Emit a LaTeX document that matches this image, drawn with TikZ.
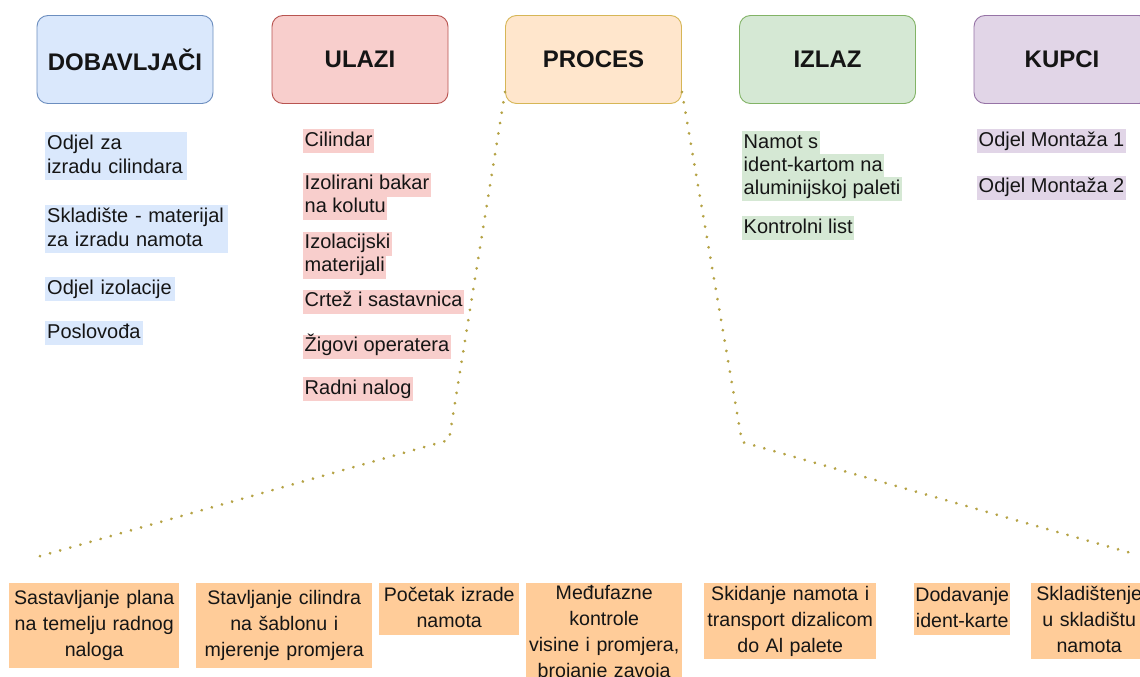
\documentclass[tikz,border=0pt]{standalone}
\usepackage{fontspec}
\setmainfont{Liberation Sans}
\definecolor{bfill}{HTML}{DAE8FC}\definecolor{bdraw}{HTML}{6C8EBF}
\definecolor{rfill}{HTML}{F8CECC}\definecolor{rdraw}{HTML}{B85450}
\definecolor{ofill}{HTML}{FFE6CC}\definecolor{odraw}{HTML}{D6B656}
\definecolor{gfill}{HTML}{D5E8D4}\definecolor{gdraw}{HTML}{82B366}
\definecolor{pfill}{HTML}{E1D5E7}\definecolor{pdraw}{HTML}{9673A6}
\definecolor{stepc}{HTML}{FFCC99}
\definecolor{dotc}{HTML}{B5A244}
\definecolor{txt}{HTML}{151515}
\newcommand{\sst}{\rule[-6pt]{0pt}{22pt}}
\begin{document}
\begin{tikzpicture}[x=1pt,y=-1pt,
  hdr/.style={draw, line width=0.9pt, rounded corners=11pt, minimum width=176pt, minimum height=88pt, inner sep=0pt, font=\fontsize{24}{28}\selectfont\bfseries, text=txt},
  blk/.style={anchor=north west, align=left, inner xsep=2pt, inner ysep=1pt, font=\fontsize{20}{24}\selectfont, text=txt},
  hl/.style={anchor=west, inner xsep=1.5pt, inner ysep=1pt, text height=16pt, text depth=6pt, font=\fontsize{20}{24}\selectfont, text=txt},
  stepbox/.style={fill=stepc, anchor=north west, align=center, inner xsep=0pt, inner ysep=0pt, font=\fontsize{19.6}{26}\selectfont, text=txt},
  dotline/.style={draw=dotc, line width=3pt, line cap=round, dash pattern=on 0.01pt off 10.5pt}]
\useasboundingbox (0,0) rectangle (1140,677);
\fill[white] (0,0) rectangle (1140,677);

% headers
\node[hdr, fill=bfill, draw=bdraw] (dob) at (125,59.5) {DOBAVLJAČI};
\node[hdr, fill=rfill, draw=rdraw] (ulazi) at (360,59.5) {ULAZI};
\node[hdr, fill=ofill, draw=odraw] (proc) at (593.5,59.5) {PROCES};
\node[hdr, fill=gfill, draw=gdraw] (izlaz) at (827.5,59.5) {IZLAZ};
\node[hdr, fill=pfill, draw=pdraw] (kupci) at (1062,59.5) {KUPCI};

% dobavljaci
\node[blk, fill=bfill, text width=138pt] (d1) at (45,132) {\sst Odjel za\\izradu cilindara\sst};
\node[blk, fill=bfill, text width=179pt] (d2) at (45,205) {\sst Skladište - materijal\\za izradu namota\sst};
\node[blk, fill=bfill, text width=126pt] (d3) at (45,277) {\sst Odjel izolacije};
\node[blk, fill=bfill, text width=94pt] (d4) at (45,321) {\sst Poslovođa};

% ulazi
\node[hl, fill=rfill] (u1) at (303,141) {Cilindar};
\node[hl, fill=rfill] (u2a) at (303,184.5) {Izolirani bakar};
\node[hl, fill=rfill] (u2b) at (303,207.5) {na kolutu};
\node[hl, fill=rfill] (u3a) at (303,243.5) {Izolacijski};
\node[hl, fill=rfill] (u3b) at (303,266.5) {materijali};
\node[hl, fill=rfill] (u4) at (303,301.5) {Crtež i sastavnica};
\node[hl, fill=rfill] (u5) at (303,346.5) {Žigovi operatera};
\node[hl, fill=rfill] (u6) at (303,389) {Radni nalog};

% izlaz
\node[hl, fill=gfill] (i1a) at (742,143) {Namot s\ };
\node[hl, fill=gfill] (i1b) at (742,166) {ident-kartom na};
\node[hl, fill=gfill] (i1c) at (742,189) {aluminijskoj paleti};
\node[hl, fill=gfill] (i2) at (742,228) {Kontrolni list};

% kupci
\node[hl, fill=pfill] (k1) at (977,141) {Odjel Montaža 1};
\node[hl, fill=pfill] (k2) at (977,187.5) {Odjel Montaža 2};

% process steps
\node[stepbox, text width=170pt, minimum height=85pt] (s1) at (9,583) {\sst Sastavljanje plana\\na temelju radnog\\naloga\sst};
\node[stepbox, text width=176pt, minimum height=85pt] (s2) at (196,583) {\sst Stavljanje cilindra\\na šablonu i\\mjerenje promjera\sst};
\node[stepbox, text width=140pt, minimum height=52pt] (s3) at (379,583) {\sst Početak izrade\\namota\sst};
\node[stepbox, text width=156pt, minimum height=100pt] (s4) at (526,583) {\sst Međufazne\\kontrole\\visine i promjera,\\brojanje zavoja\sst};
\node[stepbox, text width=172pt, minimum height=76pt] (s5) at (704,583) {\sst Skidanje namota i\\transport dizalicom\\do Al palete\sst};
\node[stepbox, text width=96pt, minimum height=52pt] (s6) at (914,583) {\sst Dodavanje\\ident-karte\sst};
\node[stepbox, text width=116pt, minimum height=76pt] (s7) at (1031,583) {\sst Skladištenje\\u skladištu\\namota\sst};

% dotted zoom lines
\coordinate (lk) at (449,440);
\coordinate (le) at (37,557);
\coordinate (rk) at (742,442);
\coordinate (re) at (1138,555);
\draw[dotline] ([yshift=12pt]proc.south west) -- (lk) -- (le);
\draw[dotline] ([yshift=12pt]proc.south east) -- (rk) -- (re);
\end{tikzpicture}
\end{document}
